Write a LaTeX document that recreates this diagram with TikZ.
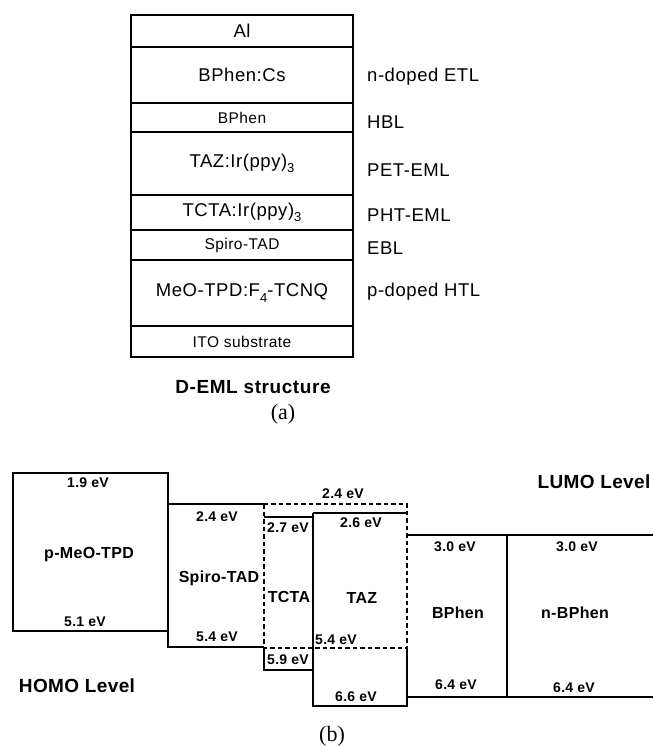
\documentclass[tikz,border=0pt]{standalone}
\usepackage{fontspec}
\setmainfont{Liberation Sans}
\newfontfamily\serifcap{Liberation Serif}
\newfontfamily\wsans[LetterSpace=3]{Liberation Sans}
\newfontfamily\msans[LetterSpace=2]{Liberation Sans}
\newcommand\subx[1]{\raisebox{-0.28em}{\fontsize{13}{13}\selectfont #1}}
\begin{document}
\begin{tikzpicture}[x=1pt,y=-1pt,
  layer/.style={draw,line width=1.2pt,minimum width=222pt,inner sep=0pt,font=\wsans\fontsize{18.5}{20}\selectfont},
  thin/.style={font=\wsans\fontsize{15.5}{17}\selectfont},
  side/.style={anchor=west,inner sep=0pt,font=\wsans\fontsize{18.5}{20}\selectfont},
  lvl/.style={line width=1.6pt},
  dsh/.style={line width=1.6pt,dash pattern=on 4.5pt off 3pt},
  ev/.style={inner sep=0pt,font=\msans\bfseries\fontsize{14}{15}\selectfont},
  nm/.style={inner sep=0pt,font=\msans\bfseries\fontsize{16}{17}\selectfont},
  big/.style={inner sep=0pt,font=\msans\bfseries\fontsize{19}{20}\selectfont},
  figcap/.style={inner sep=0pt,font=\serifcap\fontsize{22}{24}\selectfont}]
\useasboundingbox (0,0) rectangle (653,746);
% ---------- (a) ----------
\node[layer,minimum height=32pt] (al) at (242,31) {Al};
\node[layer,minimum height=56pt] (bcs) at (242,75) {BPhen:Cs};
\node[layer,thin,minimum height=29pt] (bph) at (242,117.5) {BPhen};
\node[layer,minimum height=63pt] (taz) at (242,163.5) {TAZ:Ir(ppy)\subx{3}};
\node[layer,minimum height=35pt] (tcta) at (242,212.5) {TCTA:Ir(ppy)\subx{3}};
\node[layer,thin,minimum height=30pt] (spiro) at (242,245) {Spiro-TAD};
\node[layer,minimum height=66pt] (meo) at (242,293) {MeO-TPD:F\subx{4}-TCNQ};
\node[layer,thin,minimum height=31pt] (ito) at (242,341.5) {ITO substrate};
\node[side] (l1) at (367,77) {n-doped ETL};
\node[side] (l2) at (367,122) {HBL};
\node[side] (l3) at (367,170) {PET-EML};
\node[side] (l4) at (367,215) {PHT-EML};
\node[side] (l5) at (367,248) {EBL};
\node[side] (l6) at (367,292) {p-doped HTL};
\node[inner sep=0pt,font=\wsans\bfseries\fontsize{19}{20}\selectfont] (deml) at (253,387) {D-EML structure};
\node[figcap] (capa) at (283,414) {(a)};
% ---------- (b) ----------
% dashed combined box
\draw[dsh] (264,504) rectangle (407,648);
% p-MeO-TPD
\draw[lvl] (168,631) -- (13,631) -- (13,473) -- (168,473) -- (168,631);
% Spiro-TAD
\draw[lvl] (264,504) -- (168,504) -- (168,647) -- (264,647);
% TCTA
\draw[lvl] (264,517) -- (313,517);
\draw[lvl] (264,647) -- (264,670) -- (313,670) -- (313,517);
% TAZ
\draw[lvl] (313,513) -- (407,513);
\draw[lvl] (313,513) -- (313,706) -- (407,706) -- (407,648);
% BPhen and n-BPhen
\draw[lvl] (407,535) -- (653,535);
\draw[lvl] (407,697) -- (653,697);
\draw[lvl] (507,535) -- (507,697);
% labels
\node[ev] (e1) at (88,483) {1.9 eV};
\node[nm] (n1) at (89,555) {p-MeO-TPD};
\node[ev] (e2) at (85,622) {5.1 eV};
\node[ev] (e3) at (217,517) {2.4 eV};
\node[nm] (n2) at (219,578) {Spiro-TAD};
\node[ev] (e4) at (217,637) {5.4 eV};
\node[ev] (e5) at (288,528) {2.7 eV};
\node[nm] (n3) at (289,597) {TCTA};
\node[ev] (e6) at (288,660) {5.9 eV};
\node[ev] (e7) at (343,494) {2.4 eV};
\node[ev] (e8) at (361,523) {2.6 eV};
\node[nm] (n4) at (362,598) {TAZ};
\node[ev,anchor=west] (e9) at (315,640) {5.4 eV};
\node[ev] (e10) at (356,697) {6.6 eV};
\node[ev] (e11) at (455,547) {3.0 eV};
\node[nm] (n5) at (458,613) {BPhen};
\node[ev] (e12) at (456,685) {6.4 eV};
\node[ev] (e13) at (577,547) {3.0 eV};
\node[nm] (n6) at (575,613) {n-BPhen};
\node[ev] (e14) at (574,688) {6.4 eV};
\node[big] (lumo) at (594,482) {LUMO Level};
\node[big] (homo) at (77,686) {HOMO Level};
\node[figcap] (capb) at (332,736) {(b)};
\end{tikzpicture}
\end{document}
